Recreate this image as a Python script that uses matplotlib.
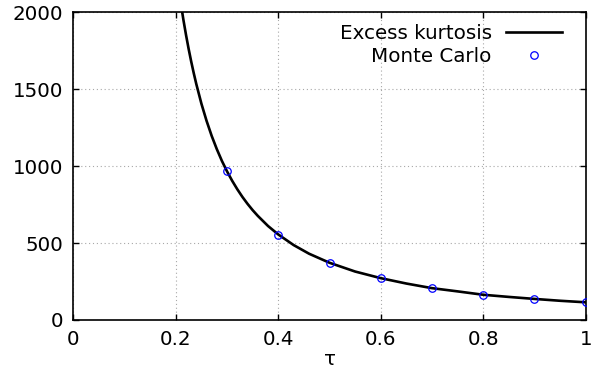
import matplotlib
matplotlib.use("Agg")
import matplotlib.pyplot as plt

# Analytic excess kurtosis curve, sampled in tau
tau_curve = [0.21, 0.215, 0.22, 0.225, 0.23, 0.235, 0.24, 0.25, 0.26, 0.27,
             0.28, 0.29, 0.30, 0.31, 0.32, 0.33, 0.34, 0.35, 0.36, 0.38,
             0.40, 0.43, 0.46, 0.50, 0.55, 0.60, 0.65, 0.70, 0.75, 0.80,
             0.85, 0.90, 0.95, 1.00]
kurt_curve = [2053, 1948, 1852, 1763, 1681, 1605, 1534, 1406, 1295, 1197,
              1111, 1034, 966, 905, 850, 800, 755, 714, 677, 611,
              556, 487, 431, 372, 315, 272, 237, 207, 186, 164,
              150, 137, 125, 115]

# Monte Carlo estimates
tau_mc = [0.3, 0.4, 0.5, 0.6, 0.7, 0.8, 0.9, 1.0]
kurt_mc = [966, 554, 372, 273, 206, 162, 136, 115]

xticks = [0, 0.2, 0.4, 0.6, 0.8, 1]
xtick_labels = ["0", "0.2", "0.4", "0.6", "0.8", "1"]
yticks = [0, 500, 1000, 1500, 2000]

fs = 14.3
plt.rcParams["font.family"] = ["DejaVu Sans"]

fig = plt.figure(figsize=(6.03, 3.73), dpi=100)
ax = fig.add_axes([0.1216, 0.1421, 0.9713 - 0.1216, 0.967 - 0.1421])

ax.plot(tau_curve, kurt_curve, color="black", lw=1.9, label="Excess kurtosis",
        zorder=3)
ax.plot(tau_mc, kurt_mc, ls="none", marker="o", ms=5.4, mfc="none",
        mec="#0000ff", mew=0.9, label="Monte Carlo", zorder=4)

ax.set_xlim(0, 1)
ax.set_ylim(0, 2000)
ax.set_xticks(xticks)
ax.set_xticklabels(xtick_labels)
ax.set_yticks(yticks)

ax.grid(True, color="#a8a8a8", ls=(0, (1, 2.5)), lw=0.8)
ax.set_axisbelow(True)

for s in ax.spines.values():
    s.set_linewidth(1.2)
    s.set_color("black")

ax.tick_params(direction="in", length=4.5, width=1.0, top=True, right=True,
               labelsize=fs, colors="black")
ax.tick_params(axis="y", pad=7)
ax.tick_params(axis="x", pad=7)

ax.set_xlabel("τ", fontsize=fs, labelpad=1)

leg = ax.legend(loc="upper right", bbox_to_anchor=(0.962, 0.976),
                frameon=False, markerfirst=False, fontsize=fs,
                handlelength=2.85, handletextpad=0.7, labelspacing=0.2,
                borderaxespad=0, borderpad=0.2)

fig.savefig("out.png", dpi=100)
